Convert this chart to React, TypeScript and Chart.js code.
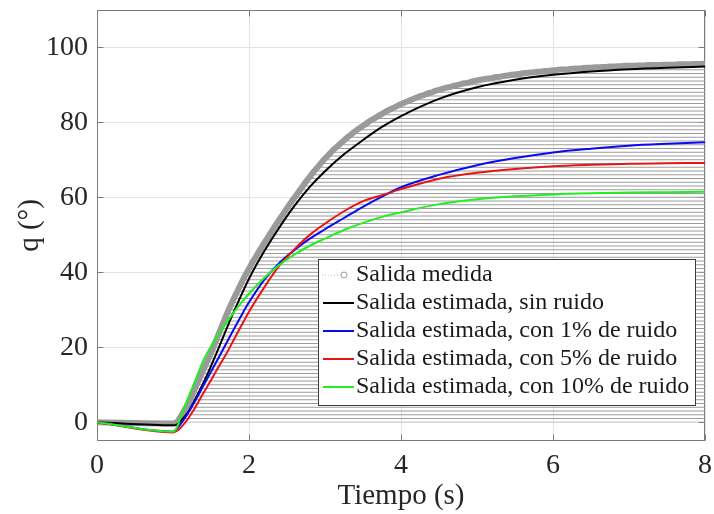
import React, { useEffect, useRef } from "react";
import { Chart, registerables } from "chart.js";

Chart.register(...registerables);

const FONT = "'Liberation Serif', 'Times New Roman', serif";

const xTickValues = [0, 2, 4, 6, 8];
const yTickValues = [0, 20, 40, 60, 80, 100];

const legendLabels = [
  "Salida medida",
  "Salida estimada, sin ruido",
  "Salida estimada, con 1% de ruido",
  "Salida estimada, con 5% de ruido",
  "Salida estimada, con 10% de ruido",
];

// measured output: value at t = 0, then samples every 0.05 s from t = 1.00 to 8.00
const measuredStart = 1.0;
const measuredStep = 0.05;
const measuredValues = [
  -0.3, 0.0, 1.5, 3.2, 5.0, 7.2, 9.5, 11.8, 14.0, 16.2, 18.5, 21.0, 23.5, 26.0, 28.5, 30.8, 33.0, 35.1, 37.2, 39.2,
  41.0, 42.8, 44.5, 46.2, 47.8, 49.4, 51.0, 52.6, 54.1, 55.6, 57.1, 58.6, 60.0, 61.4, 62.8, 64.2, 65.5, 66.8, 68.0, 69.2,
  70.4, 71.4, 72.5, 73.4, 74.3, 75.2, 76.1, 76.9, 77.7, 78.4, 79.1, 79.8, 80.5, 81.1, 81.7, 82.3, 82.9, 83.4, 83.9, 84.4,
  84.9, 85.3, 85.8, 86.2, 86.6, 87.0, 87.3, 87.7, 88.0, 88.4, 88.7, 89.0, 89.3, 89.5, 89.8, 90.0, 90.3, 90.5, 90.7, 91.0,
  91.2, 91.4, 91.6, 91.7, 91.9, 92.1, 92.2, 92.4, 92.5, 92.7, 92.8, 92.9, 93.1, 93.2, 93.3, 93.4, 93.5, 93.6, 93.7, 93.8,
  93.9, 94.0, 94.1, 94.1, 94.2, 94.3, 94.4, 94.4, 94.5, 94.6, 94.6, 94.7, 94.7, 94.8, 94.8, 94.9, 94.9, 95.0, 95.0, 95.1,
  95.1, 95.1, 95.2, 95.2, 95.2, 95.3, 95.3, 95.3, 95.3, 95.4, 95.4, 95.4, 95.4, 95.5, 95.5, 95.5, 95.5, 95.6, 95.6, 95.6,
  95.7,
];

const estimatedTime = [
  0, 1, 1.05, 1.1, 1.2, 1.3, 1.4, 1.5, 1.6, 1.7, 1.8, 1.9, 2.0, 2.2, 2.4, 2.6, 2.8, 3.0, 3.25, 3.5, 3.75, 4.0, 4.5, 5.0,
  5.5, 6.0, 6.5, 7.0, 7.5, 8.0,
];
const estimatedNoNoise = [
  0, -0.8, -0.6, 0.3, 2.8, 6.5, 10.5, 15.0, 19.8, 24.7, 29.5, 34.0, 38.3, 45.6, 52.0, 57.8, 62.8, 67.0, 71.5, 75.3, 78.8,
  81.7, 86.3, 89.4, 91.4, 92.7, 93.6, 94.2, 94.6, 94.9,
];
const estimatedNoise1 = [
  0, -2.5, -1.8, -0.5, 2.5, 6.0, 9.8, 13.5, 17.2, 21.0, 24.8, 28.5, 32.0, 38.0, 42.5, 46.0, 49.0, 51.5, 54.5, 57.5, 60.2,
  62.7, 66.0, 68.6, 70.5, 72.0, 73.0, 73.8, 74.3, 74.7,
];
const estimatedNoise5 = [
  0, -2.7, -2.3, -1.5, 1.0, 4.2, 7.8, 11.2, 14.8, 18.2, 22.0, 25.8, 29.5, 36.0, 41.8, 46.2, 50.0, 53.0, 56.3, 59.0, 60.6,
  62.2, 65.0, 66.6, 67.6, 68.3, 68.7, 69.0, 69.1, 69.2,
];
const estimatedNoise10 = [
  0, -2.5, -1.5, 1.5, 6.5, 11.5, 16.5, 20.3, 23.5, 26.5, 29.3, 31.9, 34.3, 38.5, 42.0, 44.8, 47.1, 49.0, 51.3, 53.2, 54.8,
  56.0, 58.2, 59.5, 60.3, 60.8, 61.1, 61.3, 61.4, 61.5,
];

const seriesColors = ["#9a9a9a", "#000000", "#0a0af0", "#e81414", "#22ee22"];

export default function App() {
  const canvasRef = useRef<HTMLCanvasElement | null>(null);

  useEffect(() => {
    const canvas = canvasRef.current;
    if (!canvas) return;

    const measuredPoints = [
      { x: 0, y: 0 },
      ...measuredValues.map((v, i) => ({ x: +(measuredStart + i * measuredStep).toFixed(2), y: v })),
    ];

    const toPts = (vals: number[]) => vals.map((v, i) => ({ x: estimatedTime[i], y: v }));

    let hatchPattern: CanvasPattern | null = null;
    const hatchFill = (c: any) => {
      const chart = c.chart;
      const ys = chart?.scales?.y;
      if (!chart || !chart.chartArea || !ys) return "rgba(0,0,0,0)";
      if (!hatchPattern) {
        const p0 = ys.getPixelForValue(0);
        const unit = Math.abs(ys.getPixelForValue(1) - p0);
        const period = Math.max(2, Math.round(unit * 4));
        const pc = document.createElement("canvas");
        pc.width = 8;
        pc.height = period;
        const pctx = pc.getContext("2d");
        if (pctx) {
          pctx.strokeStyle = "#9c9c9c";
          pctx.lineWidth = 1;
          for (let k = 0; k < 4; k++) {
            const y = (((p0 - k * unit) % period) + period) % period;
            for (const yy of [y - period, y, y + period]) {
              pctx.beginPath();
              pctx.moveTo(0, yy);
              pctx.lineTo(8, yy);
              pctx.stroke();
            }
          }
        }
        hatchPattern = chart.ctx.createPattern(pc, "repeat");
      }
      return hatchPattern || "rgba(0,0,0,0)";
    };

    const boxPlugin = {
      id: "boxPlugin",
      beforeDatasetsDraw(chart: any) {
        const { ctx, chartArea: ca, scales } = chart;
        ctx.save();
        ctx.strokeStyle = "#7a7a7a";
        ctx.lineWidth = 1;
        const l = Math.round(ca.left) + 0.5;
        const r = Math.round(ca.right) - 0.5;
        const t = Math.round(ca.top) + 0.5;
        const b = Math.round(ca.bottom) - 0.5;
        ctx.strokeRect(l, t, r - l, b - t);
        const tl = 6;
        ctx.beginPath();
        xTickValues.forEach((v) => {
          const px = Math.round(scales.x.getPixelForValue(v)) + 0.5;
          ctx.moveTo(px, b);
          ctx.lineTo(px, b - tl);
          ctx.moveTo(px, t);
          ctx.lineTo(px, t + tl);
        });
        yTickValues.forEach((v) => {
          const py = Math.round(scales.y.getPixelForValue(v)) + 0.5;
          ctx.moveTo(l, py);
          ctx.lineTo(l + tl, py);
          ctx.moveTo(r, py);
          ctx.lineTo(r - tl, py);
        });
        ctx.stroke();
        ctx.restore();
      },
    };

    const legendPlugin = {
      id: "customLegend",
      afterDraw(chart: any) {
        const { ctx, chartArea: ca } = chart;
        ctx.save();
        ctx.font = `24px ${FONT}`;
        const textW = Math.max(...legendLabels.map((s) => ctx.measureText(s).width));
        const rowH = 28;
        const padL = 38;
        const w = Math.round(padL + textW + 6);
        const h = rowH * 4 + 34;
        const right = Math.round(ca.right) - 10;
        const bottom = Math.round(ca.bottom) - 36;
        const left = right - w;
        const top = bottom - h;
        ctx.fillStyle = "#ffffff";
        ctx.fillRect(left, top, w, h);
        ctx.strokeStyle = "#3a3a3a";
        ctx.lineWidth = 1;
        ctx.strokeRect(left + 0.5, top + 0.5, w, h);
        legendLabels.forEach((label, i) => {
          const cy = top + 16 + i * rowH;
          if (i === 0) {
            ctx.save();
            ctx.strokeStyle = "#bdbdbd";
            ctx.lineWidth = 1;
            ctx.setLineDash([1, 2]);
            ctx.beginPath();
            ctx.moveTo(left + 4, cy);
            ctx.lineTo(left + 24, cy);
            ctx.stroke();
            ctx.setLineDash([]);
            ctx.strokeStyle = "#9a9a9a";
            ctx.beginPath();
            ctx.arc(left + 26, cy, 3, 0, Math.PI * 2);
            ctx.stroke();
            ctx.restore();
          } else {
            ctx.strokeStyle = seriesColors[i];
            ctx.lineWidth = 2;
            ctx.beginPath();
            ctx.moveTo(left + 5, cy);
            ctx.lineTo(left + 36, cy);
            ctx.stroke();
          }
          ctx.fillStyle = "#1a1a1a";
          ctx.textBaseline = "middle";
          ctx.textAlign = "left";
          ctx.fillText(label, left + padL, cy);
        });
        ctx.restore();
      },
    };

    const lineDs = (label: string, vals: number[], color: string, order: number) => ({
      label,
      data: toPts(vals),
      borderColor: color,
      borderWidth: 2,
      pointRadius: 0,
      cubicInterpolationMode: "monotone",
      fill: false,
      order,
    });

    const chart = new Chart(canvas, {
      type: "line",
      data: {
        datasets: [
          {
            label: legendLabels[0],
            data: measuredPoints,
            borderColor: seriesColors[0],
            borderWidth: 6,
            borderCapStyle: "round",
            borderJoinStyle: "round",
            pointRadius: 0,
            cubicInterpolationMode: "monotone",
            fill: "origin",
            backgroundColor: hatchFill,
            order: 5,
          },
          lineDs(legendLabels[1], estimatedNoNoise, seriesColors[1], 4),
          lineDs(legendLabels[2], estimatedNoise1, seriesColors[2], 3),
          lineDs(legendLabels[3], estimatedNoise5, seriesColors[3], 2),
          lineDs(legendLabels[4], estimatedNoise10, seriesColors[4], 1),
        ],
      },
      options: {
        animation: false,
        responsive: false,
        events: [],
        layout: { padding: { left: 0, top: 10, right: 9, bottom: 0 } },
        plugins: {
          legend: { display: false },
          tooltip: { enabled: false },
        },
        scales: {
          x: {
            type: "linear",
            min: 0,
            max: 8,
            afterBuildTicks: (scale: any) => {
              scale.ticks = xTickValues.map((v) => ({ value: v }));
            },
            afterFit: (scale: any) => {
              scale.height = 73;
              scale.paddingLeft = 0;
              scale.paddingRight = 0;
            },
            grid: { color: "#e4e4e4", lineWidth: 1, drawTicks: false },
            border: { display: false },
            ticks: {
              color: "#262626",
              font: { family: FONT, size: 28 },
              padding: 8,
              maxRotation: 0,
            },
            title: {
              display: true,
              text: "Tiempo (s)",
              color: "#262626",
              font: { family: FONT, size: 29 },
              padding: { top: 0, bottom: 0 },
            },
          },
          y: {
            type: "linear",
            min: -5,
            max: 110,
            afterBuildTicks: (scale: any) => {
              scale.ticks = yTickValues.map((v) => ({ value: v }));
            },
            afterFit: (scale: any) => {
              scale.width = 97;
              scale.paddingTop = 0;
              scale.paddingBottom = 0;
            },
            grid: { color: "#e4e4e4", lineWidth: 1, drawTicks: false },
            border: { display: false },
            ticks: {
              color: "#262626",
              font: { family: FONT, size: 28 },
              padding: 9,
            },
            title: {
              display: true,
              text: "q (°)",
              color: "#262626",
              font: { family: FONT, size: 29 },
              padding: { top: 13, bottom: 0 },
            },
          },
        },
      },
      plugins: [boxPlugin, legendPlugin],
    } as any);

    return () => {
      chart.destroy();
    };
  }, []);

  return (
    <div style={{ position: "fixed", left: 0, top: 0, width: 714, height: 514, background: "#fff" }}>
      <canvas ref={canvasRef} width={714} height={514} style={{ display: "block" }} />
    </div>
  );
}
